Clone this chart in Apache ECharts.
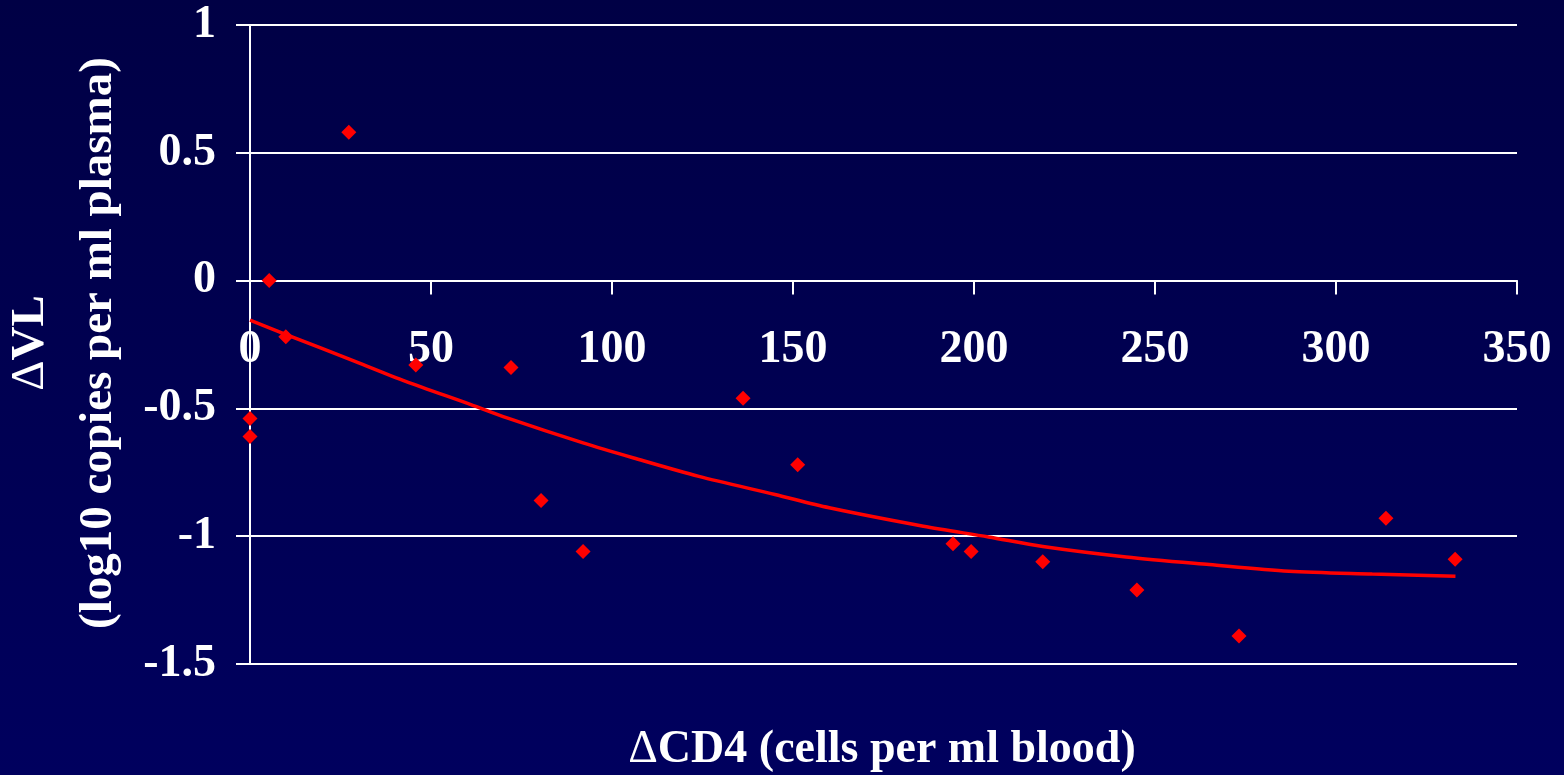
<!DOCTYPE html>
<html>
<head>
<meta charset="utf-8">
<script src="https://cdn.jsdelivr.net/npm/echarts@6/dist/echarts.min.js"></script>
<style>
html,body{margin:0;padding:0;background:#00004e;}
#c{width:1564px;height:775px;}
</style>
</head>
<body>
<div id="c"></div>
<script>
// Observed data points
var cd4 = [0, 0, 5.3, 9.9, 27.3, 45.8, 72.1, 80.4, 92, 136.2, 151.3, 194.2, 199.2, 219, 245, 273.2, 313.8, 332.9];
var vl = [-0.54, -0.61, 0.0, -0.22, 0.58, -0.33, -0.34, -0.86, -1.06, -0.46, -0.72, -1.03, -1.06, -1.10, -1.21, -1.39, -0.93, -1.09];
// Trend line
var trendX = [0, 10, 29, 43, 61, 71, 92, 106, 124, 145, 160, 186, 204, 219, 242, 265, 287, 310, 333];
var trendY = [-0.155, -0.211, -0.316, -0.394, -0.485, -0.537, -0.635, -0.694, -0.766, -0.837, -0.889, -0.961, -1.003, -1.04, -1.081, -1.111, -1.137, -1.148, -1.157];
// Axis ticks
var xTicks = [0, 50, 100, 150, 200, 250, 300, 350];
var yTicks = [-1.5, -1, -0.5, 0, 0.5, 1];
var xTitle = 'ΔCD4 (cells per ml blood)';
var yTitle1 = 'ΔVL';
var yTitle2 = '(log10 copies per ml plasma)';

var FONT = "'Liberation Serif', 'Times New Roman', serif";
var scatterData = cd4.map(function (x, i) { return [x, vl[i]]; });
var trendData = trendX.map(function (x, i) { return [x, trendY[i]]; });

var GRID_TOP = 25, GRID_BOTTOM = 111, H = 775;
var plotH = H - GRID_TOP - GRID_BOTTOM;
var yMin = yTicks[0], yMax = yTicks[yTicks.length - 1];
// shift the x axis up so it sits on the y = 0 line
var zeroOffset = -plotH * (0 - yMin) / (yMax - yMin);

var chart = echarts.init(document.getElementById('c'), null, {renderer: 'canvas', width: 1564, height: 775});
chart.setOption({
  animation: false,
  backgroundColor: {
    type: 'linear', x: 0, y: 0, x2: 0, y2: 1,
    colorStops: [{offset: 0, color: '#000045'}, {offset: 1, color: '#00005e'}]
  },
  grid: {left: 250, right: 47, top: GRID_TOP, bottom: GRID_BOTTOM, containLabel: false},
  xAxis: {
    type: 'value', position: 'bottom', offset: zeroOffset,
    min: xTicks[0], max: xTicks[xTicks.length - 1], interval: 50,
    axisLine: {onZero: false, lineStyle: {color: '#ffffff', width: 2}},
    axisTick: {show: true, length: 14, lineStyle: {color: '#ffffff', width: 2}},
    axisLabel: {color: '#ffffff', fontFamily: FONT, fontWeight: 'bold', fontSize: 46, margin: 47},
    splitLine: {show: false}
  },
  yAxis: {
    type: 'value',
    min: yMin, max: yMax, interval: 0.5,
    axisLine: {show: true, onZero: false, lineStyle: {color: '#ffffff', width: 2}},
    axisTick: {show: true, length: 14, lineStyle: {color: '#ffffff', width: 2}},
    axisLabel: {color: '#ffffff', fontFamily: FONT, fontWeight: 'bold', fontSize: 46, margin: 34},
    splitLine: {show: true, lineStyle: {color: '#ffffff', width: 2}}
  },
  graphic: [
    {
      type: 'text', x: 882, y: 750,
      style: {
        text: '{d|' + xTitle.charAt(0) + '}' + xTitle.slice(1),
        fill: '#ffffff', font: 'bold 46px ' + FONT,
        align: 'center', verticalAlign: 'middle',
        rich: {d: {fontWeight: 'normal', fontSize: 46, fontFamily: FONT, fill: '#ffffff'}}
      }
    },
    {
      type: 'text', x: 31, y: 343, rotation: Math.PI / 2,
      style: {
        text: '{d|' + yTitle1.charAt(0) + '}' + yTitle1.slice(1),
        fill: '#ffffff', font: 'bold 47px ' + FONT,
        align: 'center', verticalAlign: 'middle',
        rich: {d: {fontWeight: 'normal', fontSize: 47, fontFamily: FONT, fill: '#ffffff'}}
      }
    },
    {
      type: 'text', x: 99, y: 343, rotation: Math.PI / 2,
      style: {
        text: yTitle2, fill: '#ffffff', font: 'bold 47px ' + FONT,
        align: 'center', verticalAlign: 'middle'
      }
    }
  ],
  series: [
    {
      type: 'line', data: trendData, smooth: 0.3, showSymbol: false,
      lineStyle: {color: '#ff0000', width: 3.5}, z: 3
    },
    {
      type: 'scatter', data: scatterData, symbol: 'diamond', symbolSize: 15,
      itemStyle: {color: '#ff0000', opacity: 1}, z: 4
    }
  ]
});
</script>
</body>
</html>
